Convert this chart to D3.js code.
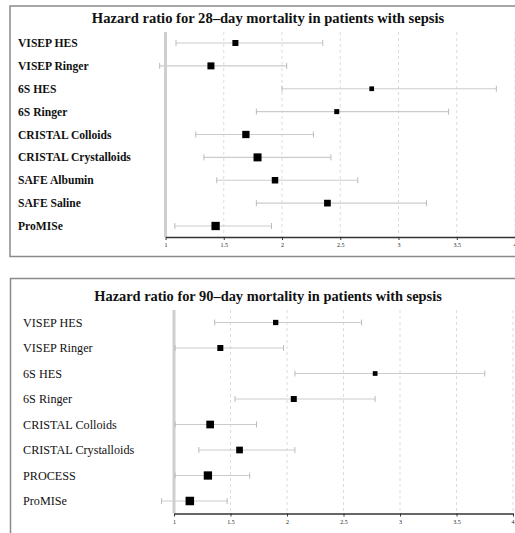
<!DOCTYPE html>
<html>
<head>
<meta charset="utf-8">
<script src="https://cdn.jsdelivr.net/npm/d3@7"></script>
<style>
  body { margin: 0; background: #fff; }
  text { font-family: "Liberation Serif", "Times New Roman", serif; }
</style>
</head>
<body>
<div id="chart"></div>
<script>
// 28-day panel
const studies28 = ['VISEP HES', 'VISEP Ringer', '6S HES', '6S Ringer', 'CRISTAL Colloids',
    'CRISTAL Crystalloids', 'SAFE Albumin', 'SAFE Saline', 'ProMISe'];
const hr28 = [1.60, 1.39, 2.77, 2.47, 1.69, 1.79, 1.94, 2.39, 1.43];
const lo28 = [1.09, 0.95, 2.00, 1.78, 1.26, 1.33, 1.44, 1.78, 1.08];
const hi28 = [2.35, 2.04, 3.84, 3.43, 2.27, 2.42, 2.65, 3.24, 1.91];
const weight28 = [6, 7, 4.7, 5, 7.3, 8, 6.5, 6.7, 8.3];

// 90-day panel
const studies90 = ['VISEP HES', 'VISEP Ringer', '6S HES', '6S Ringer', 'CRISTAL Colloids',
    'CRISTAL Crystalloids', 'PROCESS', 'ProMISe'];
const hr90 = [1.90, 1.41, 2.78, 2.06, 1.32, 1.58, 1.30, 1.14];
const lo90 = [1.36, 1.01, 2.07, 1.54, 1.01, 1.22, 1.01, 0.89];
const hi90 = [2.66, 1.97, 3.75, 2.78, 1.73, 2.07, 1.67, 1.47];
const weight90 = [5.3, 6, 4.7, 6, 7.7, 6.7, 8.3, 8.5];

const tickVals = [1, 1.5, 2, 2.5, 3, 3.5, 4];
const tickLabels = ['1', '1.5', '2', '2.5', '3', '3.5', '4'];

const titles = ['Hazard ratio for 28\u2013day mortality in patients with sepsis',
    'Hazard ratio for 90\u2013day mortality in patients with sepsis'];

const width = 515, height = 533;

const svg = d3.select('#chart').append('svg')
    .attr('width', width)
    .attr('height', height);

const sizeScale = d3.scaleLinear().domain([0, 10]).range([0, 10]);

function drawPanel(cfg) {
    const g = svg.append('g');

    g.append('rect')
        .attr('x', cfg.box[0])
        .attr('y', cfg.box[1])
        .attr('width', cfg.box[2])
        .attr('height', cfg.box[3])
        .attr('fill', 'white')
        .attr('stroke', '#8a8a8a')
        .attr('stroke-width', 1.5);

    g.append('text')
        .attr('x', 268)
        .attr('y', cfg.titleY)
        .attr('text-anchor', 'middle')
        .attr('font-weight', 'bold')
        .attr('font-size', cfg.titleSize)
        .attr('fill', '#111')
        .text(cfg.title);

    const x = d3.scaleLinear().domain([1, 4]).range(cfg.xRange);
    const y = d3.scalePoint().domain(cfg.studies).range(cfg.yRange);

    // dashed grid
    g.selectAll('.grid')
        .data(tickVals.slice(1))
        .enter().append('line')
        .attr('x1', d => x(d))
        .attr('x2', d => x(d))
        .attr('y1', cfg.plotTop)
        .attr('y2', cfg.axisY)
        .attr('stroke', '#dcdcdc')
        .attr('stroke-dasharray', '3,3');

    // reference line at 1
    g.append('line')
        .attr('x1', x(1)).attr('x2', x(1))
        .attr('y1', cfg.plotTop).attr('y2', cfg.axisY)
        .attr('stroke', '#cfcfcf')
        .attr('stroke-width', 3);

    const rows = cfg.studies.map((s, i) => ({
        name: s, hr: cfg.hr[i], lo: cfg.lo[i], hi: cfg.hi[i], w: cfg.weight[i]
    }));

    g.selectAll('.label')
        .data(rows)
        .enter().append('text')
        .attr('x', cfg.labelX)
        .attr('y', d => y(d.name) + 4)
        .attr('font-size', cfg.labelSize)
        .attr('font-weight', cfg.labelWeight)
        .attr('fill', '#111')
        .text(d => d.name);

    g.selectAll('.ci')
        .data(rows)
        .enter().append('line')
        .attr('x1', d => x(d.lo))
        .attr('x2', d => x(d.hi))
        .attr('y1', d => y(d.name))
        .attr('y2', d => y(d.name))
        .attr('stroke', '#cccccc')
        .attr('stroke-width', 1.2);

    ['lo', 'hi'].forEach(k => {
        g.selectAll('.cap-' + k)
            .data(rows)
            .enter().append('line')
            .attr('x1', d => x(d[k]))
            .attr('x2', d => x(d[k]))
            .attr('y1', d => y(d.name) - 3)
            .attr('y2', d => y(d.name) + 3)
            .attr('stroke', '#bbbbbb')
            .attr('stroke-width', 1);
    });

    g.selectAll('.pt')
        .data(rows)
        .enter().append('rect')
        .attr('x', d => x(d.hr) - sizeScale(d.w) / 2)
        .attr('y', d => y(d.name) - sizeScale(d.w) / 2)
        .attr('width', d => sizeScale(d.w))
        .attr('height', d => sizeScale(d.w))
        .attr('fill', 'black');

    const axis = d3.axisBottom(x)
        .tickValues(tickVals)
        .tickFormat((d, i) => tickLabels[i])
        .tickSize(3)
        .tickSizeOuter(0);

    const ax = g.append('g')
        .attr('transform', `translate(0,${cfg.axisY})`)
        .call(axis);
    ax.select('.domain').attr('stroke', '#333').attr('stroke-width', 1.5);
    ax.selectAll('.tick line').attr('stroke', '#333');
    ax.selectAll('.tick text')
        .attr('font-family', '"Liberation Serif", serif')
        .attr('font-size', 6)
        .attr('fill', '#222')
        .attr('y', 6);
    // keep the last label inside the window
    ax.selectAll('.tick text')
        .filter(d => x(d) > width - 4)
        .attr('text-anchor', 'end')
        .attr('x', 1);
}

drawPanel({
    box: [10, 6, 520, 250.5],
    title: titles[0], titleY: 23, titleSize: 14.6,
    studies: studies28, hr: hr28, lo: lo28, hi: hi28, weight: weight28,
    xRange: [165.5, 515], yRange: [43, 226],
    plotTop: 32, axisY: 237,
    labelX: 18, labelSize: 11.6, labelWeight: 'bold'
});

drawPanel({
    box: [10.5, 278.5, 520, 270],
    title: titles[1], titleY: 300.5, titleSize: 14.4,
    studies: studies90, hr: hr90, lo: lo90, hi: hi90, weight: weight90,
    xRange: [174, 513], yRange: [322.5, 501],
    plotTop: 310, axisY: 513.5,
    labelX: 23, labelSize: 12.2, labelWeight: 'normal'
});
</script>
</body>
</html>
